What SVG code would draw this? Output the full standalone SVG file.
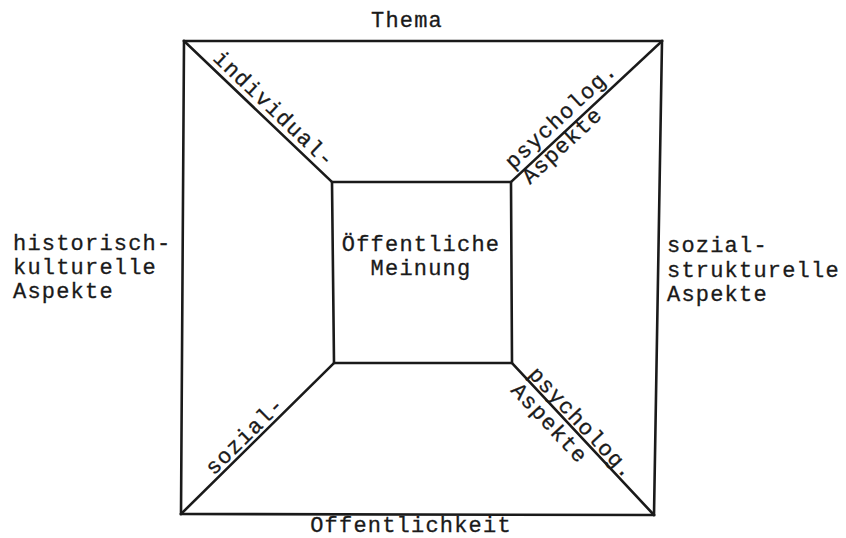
<svg xmlns="http://www.w3.org/2000/svg" width="846" height="538" viewBox="0 0 846 538">
<style>
  .ln{stroke:#1a1a1a;stroke-width:2.6;fill:none;stroke-linejoin:miter;stroke-linecap:square}
  text{font-family:"Liberation Mono","Courier New",monospace;font-size:22px;letter-spacing:1.2px;fill:#1a1a1a;stroke:#1a1a1a;stroke-width:0.3}
  .c{text-anchor:middle}
</style>
<rect width="846" height="538" fill="#ffffff"/>
<g id="frame">
  <polygon class="ln" points="184,41 662,41 654,515 181,514"/>
</g>
<g id="oeffentliche-meinung">
  <polygon class="ln" points="332,182 511,182 512,363 334,363"/>
  <text class="c" x="421" y="251">Öffentliche</text>
  <text class="c" x="421" y="275">Meinung</text>
</g>
<g id="thema"><text class="c" x="407" y="27">Thema</text></g>
<g id="oeffentlichkeit"><text class="c" x="411" y="532">Offentlichkeit</text></g>
<g id="historisch">
  <text x="13" y="250">historisch-</text>
  <text x="13" y="274">kulturelle</text>
  <text x="13" y="298">Aspekte</text>
</g>
<g id="sozialstrukturell">
  <text x="667" y="252">sozial-</text>
  <text x="667" y="277">strukturelle</text>
  <text x="667" y="301">Aspekte</text>
</g>
<g id="connectors">
  <line class="ln" x1="184" y1="41" x2="332" y2="182"/>
  <line class="ln" x1="662" y1="41" x2="511" y2="182"/>
  <line class="ln" x1="181" y1="514" x2="334" y2="363"/>
  <line class="ln" x1="654" y1="515" x2="512" y2="363"/>
  <text transform="translate(212,59.5) rotate(43.6)">individual-</text>
  <text transform="translate(513,170) rotate(-43)">psycholog.</text>
  <text transform="translate(530,185) rotate(-43)">Aspekte</text>
  <text transform="translate(213.8,476.1) rotate(-44.6)">sozial-</text>
  <text transform="translate(527.5,375) rotate(47)">psycholog.</text>
  <text transform="translate(510,391) rotate(47)">Aspekte</text>
</g>
</svg>
